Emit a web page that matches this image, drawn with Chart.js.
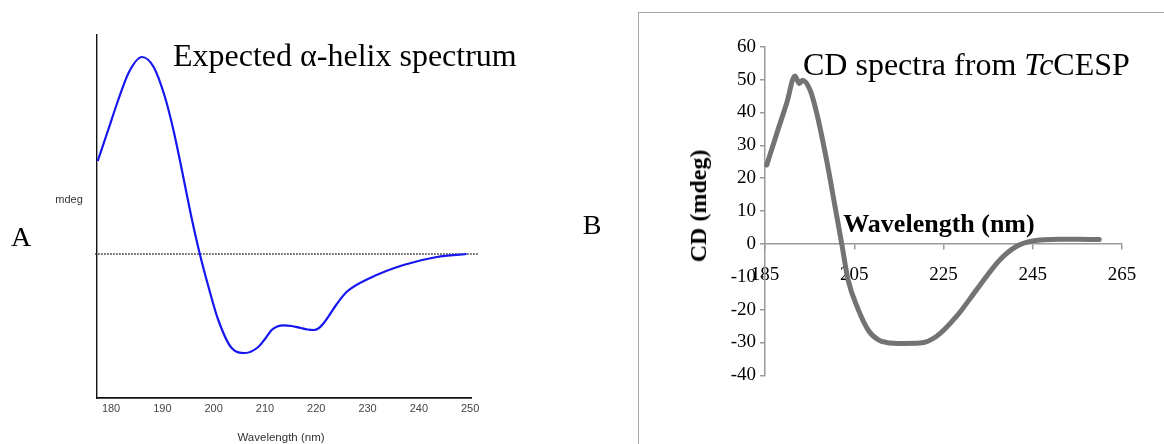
<!DOCTYPE html>
<html><head><meta charset="utf-8">
<script src="https://cdn.jsdelivr.net/npm/chart.js@4.4.0/dist/chart.umd.min.js"></script>
<style>
html,body{margin:0;padding:0;background:#fff;}
#wrap{position:relative;width:1164px;height:444px;overflow:hidden;background:#fff;}
.t{position:absolute;white-space:nowrap;line-height:1;}
.serif{font-family:"Liberation Serif","Times New Roman",serif;color:#000;}
.sans{font-family:"Liberation Sans",Arial,sans-serif;color:#333;}
.c{transform:translate(-50%,-50%);}
#frameB{position:absolute;left:638px;top:12px;width:700px;height:600px;border-left:1.5px solid #a6a6a6;border-top:1.5px solid #a6a6a6;}
canvas{position:absolute;}
</style></head>
<body><div id="wrap">
<div id="frameB"></div>
<canvas id="cA" width="560" height="444" style="left:0;top:0;width:560px;height:444px"></canvas>
<canvas id="cB" width="604" height="444" style="left:560px;top:0;width:604px;height:444px"></canvas>
<div class="t serif c" style="left:21px;top:237px;font-size:28px;">A</div>
<div class="t sans c" style="left:69px;top:199px;font-size:11px;">mdeg</div>
<div class="t serif" style="left:173px;top:39px;font-size:32px;">Expected α-helix spectrum</div>
<div class="t sans c" style="left:281px;top:438px;font-size:11.5px;">Wavelength (nm)</div>
<div class="t serif c" style="left:592px;top:225px;font-size:28px;">B</div>
<div class="t serif" style="left:803px;top:48px;font-size:32px;">CD spectra from <i>Tc</i>CESP</div>
<div class="t serif" style="left:698px;top:206px;font-size:24px;font-weight:bold;transform:translate(-50%,-50%) rotate(-90deg);">CD (mdeg)</div>
<div class="t serif c" style="left:939px;top:224px;font-size:26px;font-weight:bold;">Wavelength (nm)</div>
</div>
<script>
// ---- Panel A: expected alpha-helix spectrum ----
const wavelengthA = [177.4,179.5,181.4,183.5,186.0,188.3,190.5,192.2,193.8,195.7,197.3,199.0,200.9,203.5,206.1,208.7,210.0,211.3,212.4,213.6,215.2,216.8,218.3,219.5,220.4,221.3,222.7,224.0,225.9,230.5,237.0,243.5,249.3];
const signalA     = [93,125,154,182,197,187,157,123,84,36,0,-33,-66,-94,-99,-93,-85,-76,-72.5,-71.3,-72,-73.8,-75.5,-76,-74.5,-70,-60,-50,-38,-24,-11,-3,0];
const zeroLineX = [176.9, 251.5];
const zeroLineY = [0, 0];
const xTicksA = [180,190,200,210,220,230,240,250];

// ---- Panel B: CD spectra from TcCESP ----
const wavelengthB = [185.4,187.5,189.9,191.7,192.7,193.4,195.1,196.6,198.8,200.7,202.2,203.6,205.9,208.3,210.5,212.2,216.0,219.7,223.4,227.9,232.4,237.6,241.3,245.0,251.0,255.0,259.9];
const cdB         = [24.0,33,43,51.1,48.8,49.8,46.8,39.7,25.5,11.3,0,-10.9,-20,-26.6,-29.3,-30,-30.3,-30.2,-28.2,-22.1,-14,-4.9,-0.8,0.9,1.4,1.4,1.3];
const xTicksB = [185,205,225,245,265];
const yTicksB = [-40,-30,-20,-10,0,10,20,30,40,50,60];

const zip = (xs, ys) => xs.map((x, i) => ({x, y: ys[i]}));

new Chart(document.getElementById('cA'), {
  type: 'line',
  data: {
    datasets: [
      {data: zip(zeroLineX, zeroLineY), borderColor: '#222', borderWidth: 1.5, borderDash: [1.5, 1.5], pointRadius: 0, clip: false, order: 2},
      {data: zip(wavelengthA, signalA), borderColor: 'rgb(22,22,240)', borderWidth: 2.2, pointRadius: 0, cubicInterpolationMode: 'monotone', order: 1}
    ]
  },
  options: {
    responsive: false, animation: false, devicePixelRatio: 1,
    layout: {padding: {left: 96.7, top: 35, right: 88.3, bottom: 0}},
    plugins: {legend: {display: false}, tooltip: {enabled: false}},
    scales: {
      x: {
        type: 'linear', min: 177.2, max: 250.3,
        afterBuildTicks: s => { s.ticks = xTicksA.map(v => ({value: v})); },
        afterFit: s => { s.height = 45.7; },
        grid: {drawOnChartArea: false, drawTicks: false},
        border: {display: true, color: '#111', width: 1.8},
        ticks: {color: '#444', font: {family: 'Liberation Sans', size: 11}, padding: 4, maxRotation: 0, autoSkip: false}
      },
      y: {
        type: 'linear', min: -144.3, max: 219,
        afterFit: s => { s.width = 0; },
        grid: {drawOnChartArea: false, drawTicks: false},
        border: {display: true, color: '#111', width: 1.4},
        ticks: {display: false}
      }
    }
  }
});

new Chart(document.getElementById('cB'), {
  type: 'line',
  data: {
    datasets: [
      {data: zip(wavelengthB, cdB), borderColor: '#737373', borderWidth: 5, pointRadius: 0, cubicInterpolationMode: 'monotone', borderCapStyle: 'round', borderJoinStyle: 'round', clip: false}
    ]
  },
  options: {
    responsive: false, animation: false, devicePixelRatio: 1,
    layout: {padding: {left: 0, top: 46.7, right: 42, bottom: 68.7}},
    plugins: {legend: {display: false}, tooltip: {enabled: false}},
    scales: {
      x: {
        type: 'linear', min: 185, max: 265, position: {y: 0},
        afterBuildTicks: s => { s.ticks = xTicksB.map(v => ({value: v})); },
        grid: {drawOnChartArea: false, drawTicks: true, tickLength: 5, color: '#9a9a9a', lineWidth: 1.5},
        border: {display: true, color: '#9a9a9a', width: 1.5},
        ticks: {color: '#000', font: {family: 'Liberation Serif', size: 19}, padding: 15, maxRotation: 0, autoSkip: false}
      },
      y: {
        type: 'linear', min: -40, max: 60,
        afterBuildTicks: s => { s.ticks = yTicksB.map(v => ({value: v})); },
        afterFit: s => { s.width = 205; },
        grid: {drawOnChartArea: false, drawTicks: true, tickLength: 5, color: '#9a9a9a', lineWidth: 1.5},
        border: {display: true, color: '#9a9a9a', width: 1.5},
        ticks: {color: '#000', font: {family: 'Liberation Serif', size: 19}, padding: 4, autoSkip: false}
      }
    }
  }
});
</script>
</body></html>
